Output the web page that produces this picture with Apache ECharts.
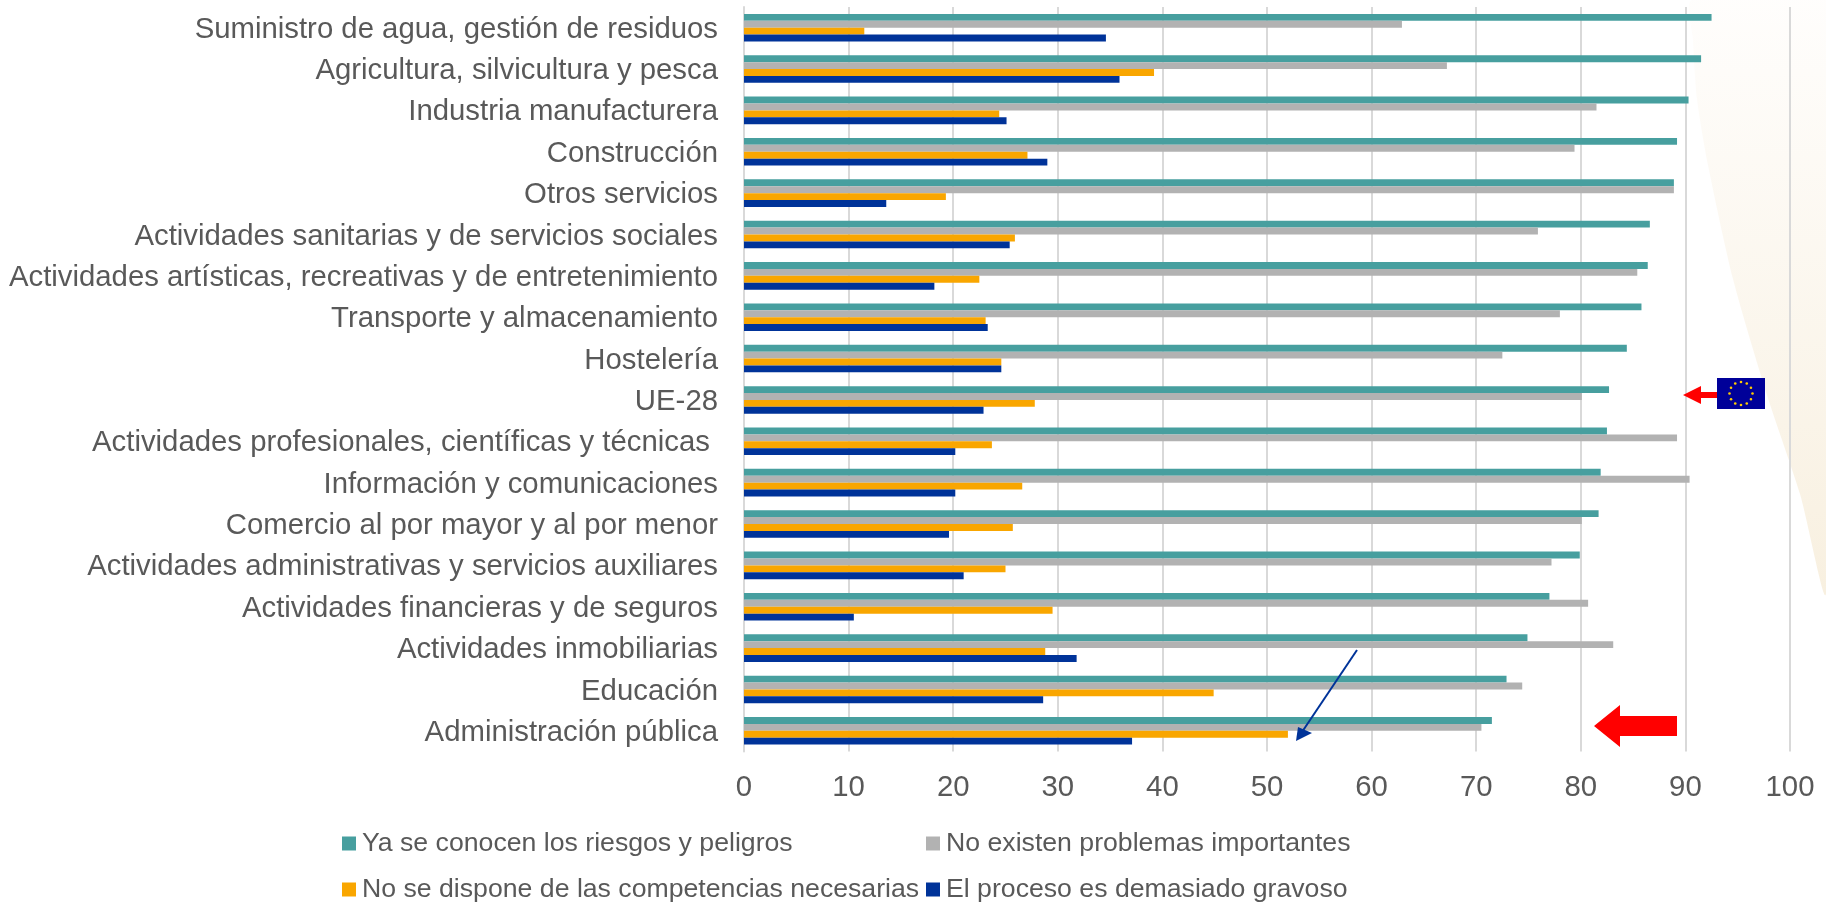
<!DOCTYPE html>
<html><head><meta charset="utf-8">
<style>html,body{margin:0;padding:0;background:#fff}#c{width:1826px;height:907px}</style>
<script src="https://cdn.jsdelivr.net/npm/echarts@6/dist/echarts.min.js"></script>
</head><body><div id="c"></div>
<script>
const categories = ["Suministro de agua, gestión de residuos","Agricultura, silvicultura y pesca","Industria manufacturera","Construcción","Otros servicios","Actividades sanitarias y de servicios sociales","Actividades artísticas, recreativas y de entretenimiento","Transporte y almacenamiento","Hostelería","UE-28","Actividades profesionales, científicas y técnicas ","Información y comunicaciones","Comercio al por mayor y al por menor","Actividades administrativas y servicios auxiliares","Actividades financieras y de seguros","Actividades inmobiliarias","Educación","Administración pública"];
const riesgos = [92.5,91.5,90.3,89.2,88.9,86.6,86.4,85.8,84.4,82.7,82.5,81.9,81.7,79.9,77.0,74.9,72.9,71.5];
const problemas = [62.9,67.2,81.5,79.4,88.9,75.9,85.4,78.0,72.5,80.1,89.2,90.4,80.1,77.2,80.7,83.1,74.4,70.5];
const competencias = [11.5,39.2,24.4,27.1,19.3,25.9,22.5,23.1,24.6,27.8,23.7,26.6,25.7,25.0,29.5,28.8,44.9,52.0];
const gravoso = [34.6,35.9,25.1,29.0,13.6,25.4,18.2,23.3,24.6,22.9,20.2,20.2,19.6,21.0,10.5,31.8,28.6,37.1];
const seriesNames = ["Ya se conocen los riesgos y peligros","No existen problemas importantes","No se dispone de las competencias necesarias","El proceso es demasiado gravoso"];
const colors = ["#479F9F","#B2B2B2","#F9A600","#003399"];
const values = [riesgos,problemas,competencias,gravoso];
const FONT = '"Liberation Sans", Arial, sans-serif';
const TXT = '#595959';

const legendPos = [[342,830],[926,830],[342,876],[926,876]];
const stars = [];
for (let i=0;i<12;i++){
  const a = i*Math.PI/6;
  stars.push({type:'circle',z:101,shape:{cx:1741+11.5*Math.sin(a),cy:393.5-11.5*Math.cos(a),r:1.3},style:{fill:'#FFCC00'}});
}
const bgShape = [[1692,0],[1693,40],[1697,99],[1708,165],[1733,279],[1767,395],[1800,494],[1826,593],[1826,0]];
const chart = echarts.init(document.getElementById('c'),null,{renderer:'canvas'});
chart.setOption({
  animation:false,
  backgroundColor:'#fff',
  grid:{left:744,width:1046,top:7,height:744.5,containLabel:false},
  xAxis:{type:'value',min:0,max:100,interval:10,
    axisLine:{show:false},axisTick:{show:false},
    axisLabel:{fontFamily:FONT,fontSize:29.33,color:TXT,margin:22},
    splitLine:{show:true,lineStyle:{color:'#D9D9D9',width:2}}},
  yAxis:{type:'category',inverse:true,data:categories,
    axisLine:{show:true,lineStyle:{color:'#D9D9D9',width:2}},axisTick:{show:false},
    axisLabel:{fontFamily:FONT,fontSize:29.33,color:TXT,margin:26,verticalAlign:'top',lineHeight:4}},
  legend:seriesNames.map((n,i)=>({
    data:[n],left:legendPos[i][0],top:legendPos[i][1],padding:0,
    icon:'rect',itemWidth:14,itemHeight:14,selectedMode:false,
    textStyle:{fontFamily:FONT,fontSize:26.67,color:TXT,padding:[0,0,0,1]}
  })),
  series:seriesNames.map((n,i)=>({
    name:n,type:'bar',data:values[i],barWidth:6.9,barGap:'0%',
    itemStyle:{color:colors[i]}
  })),
  graphic:{elements:[
    {type:'polygon',z:-10,shape:{points:bgShape,smooth:0.25},
      style:{fill:new echarts.graphic.LinearGradient(0,0,0,1,[{offset:0,color:'#FFFEFD'},{offset:1,color:'#F8F0E0'}])}},
    {type:'polygon',z:100,shape:{points:[[1594,726],[1620,705],[1620,716],[1677,716],[1677,736],[1620,736],[1620,747]]},style:{fill:'#FF0000'}},
    {type:'line',z:100,shape:{x1:1357,y1:650,x2:1302,y2:732},style:{stroke:'#003399',lineWidth:2}},
    {type:'polygon',z:100,shape:{points:[[1296,741],[1298,727],[1312,733]]},style:{fill:'#003399'}},
    {type:'polygon',z:100,shape:{points:[[1683,395],[1701,386],[1701,392],[1717,392],[1717,398],[1701,398],[1701,404]]},style:{fill:'#FF0000'}},
    {type:'rect',z:100,shape:{x:1717,y:378,width:48,height:31},style:{fill:'#000099'}},
    ...stars
  ]}
});
</script></body></html>
